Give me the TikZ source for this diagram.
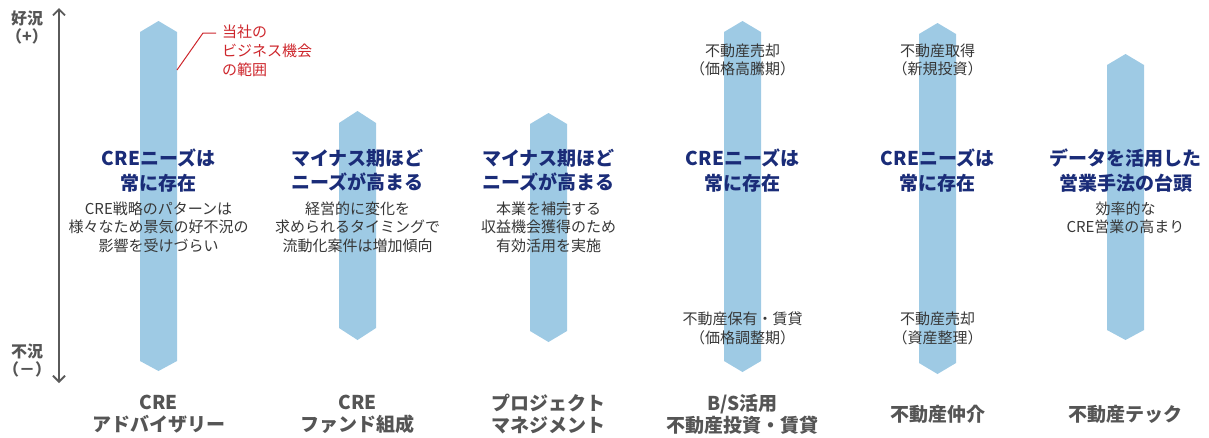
\documentclass[tikz,border=0pt]{standalone}
\usepackage{fontspec}
\setmainfont{Noto Sans CJK JP}
\usetikzlibrary{arrows.meta}
\definecolor{barblue}{RGB}{158,202,228}
\definecolor{navy}{RGB}{26,44,120}
\definecolor{txtgray}{RGB}{55,55,55}
\definecolor{labgray}{RGB}{85,85,85}
\definecolor{axgray}{RGB}{90,90,90}
\definecolor{leadred}{RGB}{205,38,44}
\tikzset{
  heading/.style={font=\fontsize{19}{24.5}\selectfont\bfseries, text=navy, align=center, inner sep=0pt},
  body/.style={font=\fontsize{15}{18.5}\selectfont, text=txtgray, align=center, inner sep=0pt},
  botlabel/.style={font=\fontsize{19}{22}\selectfont\bfseries, text=labgray, align=center, inner sep=0pt},
  axlabel/.style={font=\fontsize{16}{18}\selectfont\bfseries, text=labgray, align=center, inner sep=0pt},
  redlabel/.style={font=\fontsize{15}{19}\selectfont, text=leadred, align=left, inner sep=0pt},
  barfill/.style={fill=barblue},
}
\newcommand{\mybar}[6]{% x1 x2 ptop stop sbot pbot
  \fill[barfill] (#1,#4) -- ({(#1+#2)/2},#3) -- (#2,#4) -- (#2,#5) -- ({(#1+#2)/2},#6) -- (#1,#5) -- cycle;}
\begin{document}
\begin{tikzpicture}[x=1pt,y=-1pt]
\useasboundingbox (0,0) rectangle (1209,437);
% bars
\mybar{140}{177}{21}{32}{361}{371}
\mybar{339}{376}{111}{123}{328}{340}
\mybar{530}{567}{113}{124}{331}{342}
\mybar{724}{761}{21}{32}{361}{372}
\mybar{919}{956}{23}{34}{363}{374}
\mybar{1107}{1144}{54}{65}{330}{340}
% axis
\coordinate (axtop) at (59,8);
\coordinate (axbot) at (59,383);
\draw[axgray, line width=1.8pt, {Straight Barb[length=6pt,width=12pt]}-{Straight Barb[length=6pt,width=12pt]}] (axtop) -- (axbot);
\node[axlabel] (good) at (27,27) {好況\\（+）};
\node[axlabel] (bad) at (27,360) {不況\\（－）};
% red leader
\node[redlabel, anchor=west] (scope) at (222,51) {当社の\\ビジネス機会\\の範囲};
\coordinate (leadA) at (177,70);
\coordinate (leadB) at (203,33);
\coordinate (leadC) at (216,33);
\draw[leadred, line width=1pt] (leadA) -- (leadB) -- (leadC);
% headings
\node[heading] (h1) at (158.5,170.5) {CREニーズは\\常に存在};
\node[heading] (h2) at (357.5,170.5) {マイナス期ほど\\ニーズが高まる};
\node[heading] (h3) at (548.5,170.5) {マイナス期ほど\\ニーズが高まる};
\node[heading] (h4) at (742.5,170.5) {CREニーズは\\常に存在};
\node[heading] (h5) at (937.5,170.5) {CREニーズは\\常に存在};
\node[heading] (h6) at (1125.5,170.5) {データを活用した\\営業手法の台頭};
% body
\node[body] (b1) at (158.5,227) {CRE戦略のパターンは\\様々なため景気の好不況の\\影響を受けづらい};
\node[body] (b2) at (357.5,227) {経営的に変化を\\求められるタイミングで\\流動化案件は増加傾向};
\node[body] (b3) at (548.5,227) {本業を補完する\\収益機会獲得のため\\有効活用を実施};
\node[body] (b6) at (1125.5,218) {効率的な\\CRE営業の高まり};
\node[body] (t4) at (742.5,60) {不動産売却\\（価格高騰期）};
\node[body] (t5) at (937.5,60) {不動産取得\\（新規投資）};
\node[body] (u4) at (742.5,328.5) {不動産保有・賃貸\\（価格調整期）};
\node[body] (u5) at (937.5,328.5) {不動産売却\\（資産整理）};
% bottom labels
\node[botlabel] (l1) at (158.5,414) {CRE\\アドバイザリー};
\node[botlabel] (l2) at (357.5,414) {CRE\\ファンド組成};
\node[botlabel] (l3) at (548.5,414) {プロジェクト\\マネジメント};
\node[botlabel] (l4) at (742.5,414) {B/S活用\\不動産投資・賃貸};
\node[botlabel] (l5) at (937.5,414) {不動産仲介};
\node[botlabel] (l6) at (1125.5,414) {不動産テック};
\end{tikzpicture}
\end{document}
